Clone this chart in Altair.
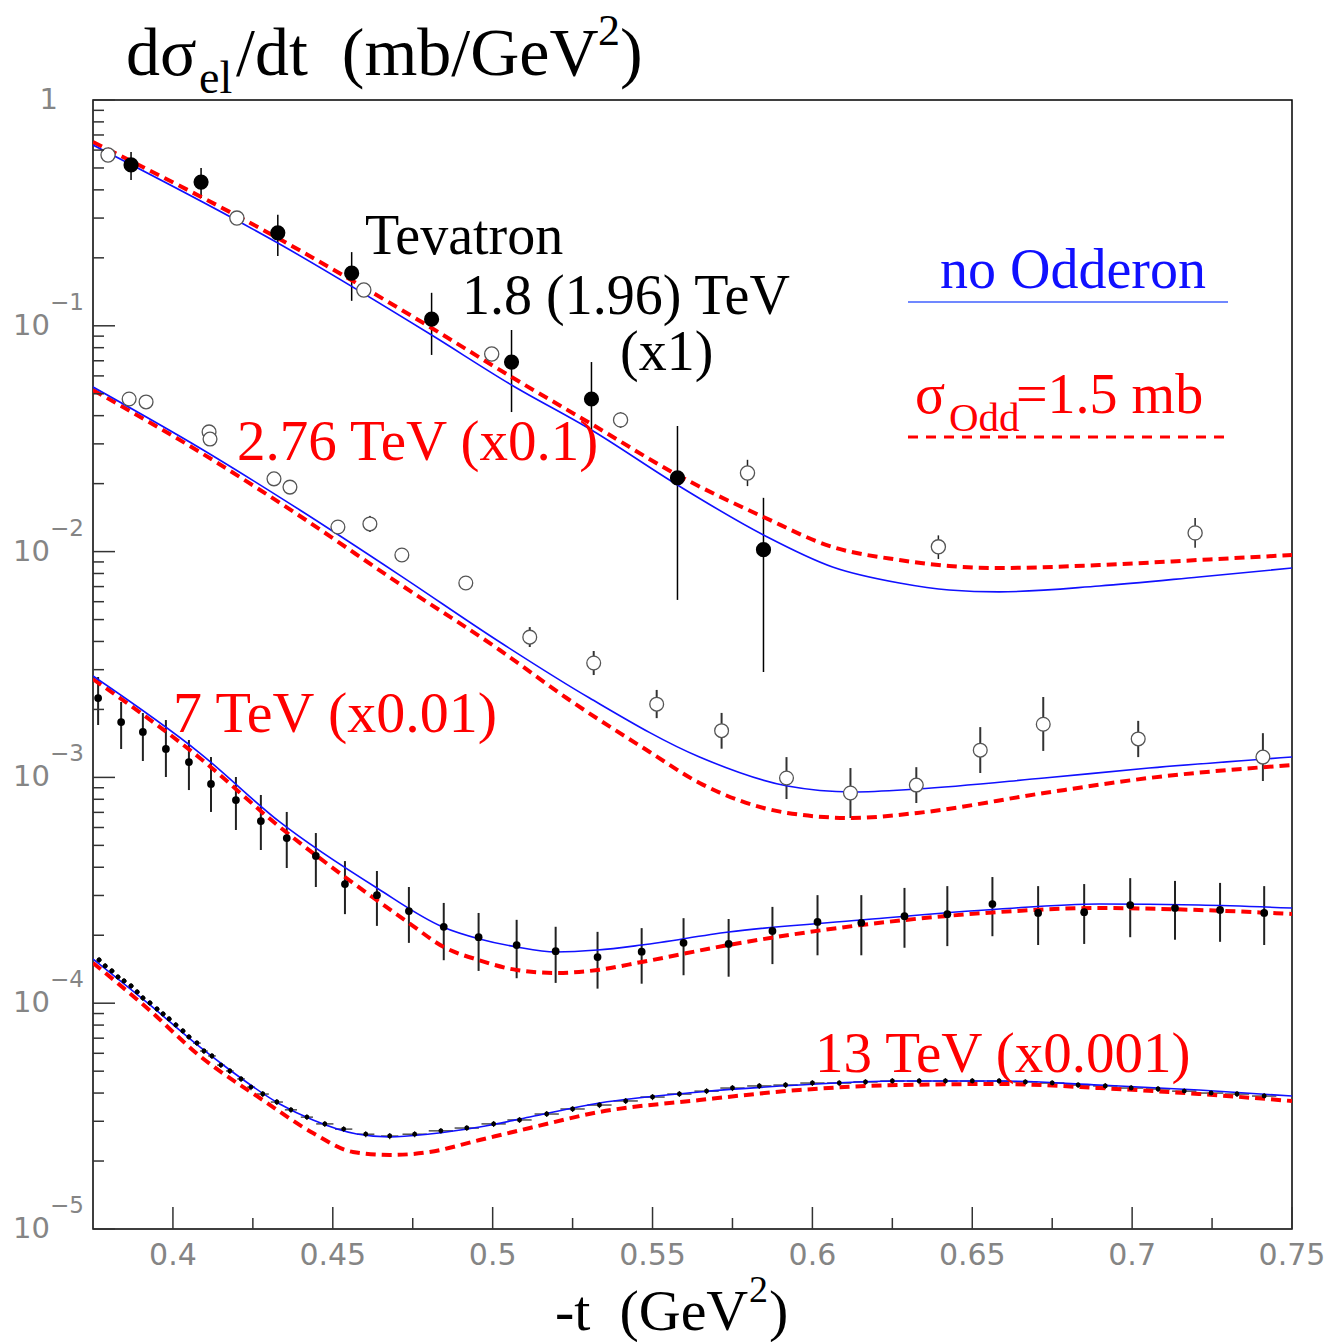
import altair as alt
import pandas as pd

# ---------------- data ----------------
# Tevatron 1.8 TeV (filled)
tevA_x = [0.3869, 0.4088, 0.4328, 0.4559, 0.4809, 0.5059, 0.5309, 0.5578, 0.5847]
tevA_y = [0.516, 0.433, 0.258, 0.171, 0.107, 0.0691, 0.0474, 0.0212, 0.0102]
tevA_lo = [0.442, 0.368, 0.204, 0.129, 0.0743, 0.0415, 0.0255, 0.00611, 0.00293]
tevA_hi = [0.588, 0.500, 0.310, 0.212, 0.140, 0.0958, 0.0691, 0.0360, 0.0173]

# Tevatron 1.96 TeV (open)
tevB_x = [0.3797, 0.4200, 0.4597, 0.4997, 0.5400, 0.5797, 0.6394, 0.7197]
tevB_y = [0.571, 0.300, 0.144, 0.0750, 0.0383, 0.0223, 0.0105, 0.0121]
tevB_lo = [0.554, 0.291, 0.1386, 0.0713, 0.0353, 0.0195, 0.00927, 0.0104]
tevB_hi = [0.589, 0.310, 0.1496, 0.0789, 0.0415, 0.0255, 0.0118, 0.0141]

# 2.76 TeV (x0.1)
e276_x = [0.3863, 0.3916, 0.4113, 0.4116, 0.4316, 0.4366, 0.4516, 0.4616, 0.4716, 0.4916, 0.5116,
          0.5316, 0.5513, 0.5716, 0.5919, 0.6119, 0.6325, 0.6525, 0.6722, 0.7019, 0.7409]
e276_y = [0.0474, 0.0460, 0.0339, 0.0315, 0.0210, 0.0193, 0.01285, 0.01326, 0.00966, 0.00726, 0.00418,
          0.00321, 0.00211, 0.00161, 0.000994, 0.000853, 0.000925, 0.00132, 0.00172, 0.00148, 0.00123]
e276_lo = [0.0460, 0.0446, 0.0319, 0.0296, 0.0203, 0.0187, 0.01246, 0.01222, 0.00927, 0.00697, 0.00378,
           0.00284, 0.00183, 0.00134, 0.000802, 0.000661, 0.000770, 0.001046, 0.00131, 0.00123, 0.000964]
e276_hi = [0.0489, 0.0474, 0.0360, 0.0335, 0.0216, 0.0199, 0.01325, 0.01439, 0.01006, 0.00756, 0.00463,
           0.00363, 0.00244, 0.00193, 0.00123, 0.00110, 0.00111, 0.00167, 0.00227, 0.00178, 0.00157]

# 7 TeV (x0.01)
e7_x = [0.3766, 0.3838, 0.3906, 0.3978, 0.4050, 0.4119, 0.4197, 0.4275, 0.4356, 0.4447, 0.4538,
        0.4638, 0.4738, 0.4847, 0.4956, 0.5075, 0.5197, 0.5328, 0.5466, 0.5597, 0.5738, 0.5875,
        0.6016, 0.6153, 0.6288, 0.6422, 0.6563, 0.6706, 0.6850, 0.6994, 0.7134, 0.7275, 0.7413]
e7_y = [0.002247, 0.001759, 0.001589, 0.001336, 0.001170, 0.000935, 0.000794, 0.000641, 0.000539,
        0.000449, 0.000337, 0.000301, 0.000256, 0.000218, 0.000196, 0.000181, 0.000170, 0.000160,
        0.000169, 0.000185, 0.000183, 0.000209, 0.000229, 0.000227, 0.000243, 0.000248, 0.000275,
        0.000251, 0.000253, 0.000272, 0.000264, 0.000259, 0.000251]
e7_lo = [0.001706, 0.001336, 0.001182, 0.001004, 0.000879, 0.000703, 0.000585, 0.000477, 0.000397,
         0.000327, 0.000248, 0.000220, 0.000185, 0.000155, 0.000139, 0.000129, 0.000123, 0.000116,
         0.000122, 0.000133, 0.000131, 0.000149, 0.000163, 0.000163, 0.000176, 0.000179, 0.000198,
         0.000181, 0.000183, 0.000196, 0.000191, 0.000187, 0.000181]
e7_hi = [0.002784, 0.002158, 0.001929, 0.001795, 0.001464, 0.001231, 0.001004, 0.000836, 0.000703,
         0.000567, 0.000426, 0.000385, 0.000327, 0.000278, 0.000251, 0.000234, 0.000218, 0.000207,
         0.000215, 0.000238, 0.000236, 0.000267, 0.000301, 0.000301, 0.000324, 0.000330, 0.000362,
         0.000330, 0.000337, 0.000358, 0.000348, 0.000341, 0.000330]

# 13 TeV (x0.001)
e13_x = [0.3769, 0.3788, 0.3809, 0.3828, 0.3847, 0.3869, 0.3888, 0.3906, 0.3928, 0.3950,
         0.3969, 0.3988, 0.4009, 0.4031, 0.4050, 0.4075, 0.4097, 0.4122, 0.4150, 0.4178,
         0.4213, 0.4244, 0.4281, 0.4325, 0.4369, 0.4419, 0.4475, 0.4534, 0.4603, 0.4678,
         0.4756, 0.4838, 0.4919, 0.5003, 0.5084, 0.5169, 0.5250, 0.5334, 0.5416, 0.5500,
         0.5584, 0.5669, 0.5750, 0.5834, 0.5916, 0.6000, 0.6084, 0.6166, 0.6250, 0.6334,
         0.6416, 0.6500, 0.6584, 0.6666, 0.6750, 0.6831, 0.6916, 0.6997, 0.7081, 0.7163,
         0.7247, 0.7328, 0.7413]
e13_y = [1.553e-4, 1.461e-4, 1.389e-4, 1.306e-4, 1.254e-4, 1.192e-4, 1.121e-4, 1.054e-4, 1.002e-4, 9.42e-5,
         8.96e-5, 8.51e-5, 8.01e-5, 7.53e-5, 7.09e-5, 6.66e-5, 6.14e-5, 5.84e-5, 5.32e-5, 5.01e-5,
         4.62e-5, 4.25e-5, 3.96e-5, 3.65e-5, 3.37e-5, 3.13e-5, 2.92e-5, 2.77e-5, 2.63e-5, 2.58e-5,
         2.63e-5, 2.72e-5, 2.80e-5, 2.92e-5, 3.04e-5, 3.23e-5, 3.40e-5, 3.54e-5, 3.69e-5, 3.84e-5,
         3.96e-5, 4.08e-5, 4.21e-5, 4.30e-5, 4.34e-5, 4.43e-5, 4.43e-5, 4.48e-5, 4.52e-5, 4.52e-5,
         4.52e-5, 4.52e-5, 4.52e-5, 4.48e-5, 4.43e-5, 4.34e-5, 4.30e-5, 4.21e-5, 4.17e-5, 4.08e-5,
         4.00e-5, 3.96e-5, 3.88e-5]
e13_err = [4.7e-6, 4.4e-6, 4.2e-6, 3.9e-6, 3.8e-6, 3.6e-6, 3.4e-6, 3.2e-6, 3.0e-6, 2.8e-6,
           2.7e-6, 2.6e-6, 2.4e-6, 2.3e-6, 2.1e-6, 2.0e-6, 1.8e-6, 1.8e-6, 1.6e-6, 1.5e-6,
           1.4e-6, 1.3e-6, 1.2e-6, 1.1e-6, 1.0e-6, 0.9e-6, 0.9e-6, 0.8e-6, 0.8e-6, 0.8e-6,
           0.8e-6, 0.8e-6, 0.8e-6, 0.9e-6, 0.9e-6, 1.0e-6, 1.0e-6, 1.1e-6, 1.1e-6, 1.2e-6,
           1.2e-6, 1.2e-6, 1.3e-6, 1.3e-6, 1.3e-6, 1.3e-6, 1.3e-6, 1.3e-6, 1.4e-6, 1.4e-6,
           1.4e-6, 1.4e-6, 1.4e-6, 1.3e-6, 1.3e-6, 1.3e-6, 1.3e-6, 1.3e-6, 1.3e-6, 1.2e-6,
           1.2e-6, 1.2e-6, 1.2e-6]
e13_xhw = [0.0009, 0.0009, 0.0009, 0.0009, 0.0009, 0.0009, 0.0009, 0.0009, 0.0009, 0.0009,
           0.0009, 0.0009, 0.0009, 0.0009, 0.0009, 0.0012, 0.0012, 0.0012, 0.0012, 0.0012,
           0.0012, 0.0012, 0.0019, 0.0019, 0.0019, 0.0019, 0.0027, 0.0027, 0.0027, 0.0027,
           0.0038, 0.0038, 0.0038, 0.0038, 0.0038, 0.0038, 0.0038, 0.0038, 0.0038, 0.0038,
           0.0038, 0.0038, 0.0038, 0.0038, 0.0038, 0.0038, 0.0038, 0.0038, 0.0038, 0.0038,
           0.0038, 0.0038, 0.0038, 0.0038, 0.0038, 0.0038, 0.0038, 0.0038, 0.0038, 0.0038,
           0.0038, 0.0038, 0.0038]

# Model curves: no Odderon (blue) and sigma_Odd = 1.5 mb (red dashed)
tev_blue_x = [0.375, 0.4328, 0.4809, 0.5059, 0.5309, 0.5578, 0.5847, 0.6063, 0.6272, 0.6428, 0.6584, 0.6897, 0.7209, 0.75]
tev_blue_y = [0.632, 0.2326, 0.0910, 0.0547, 0.03456, 0.01972, 0.01185, 0.00855, 0.00726, 0.00676, 0.00663, 0.00704, 0.00772, 0.00846]
tev_red_x = [0.375, 0.4328, 0.4809, 0.5059, 0.5309, 0.5578, 0.5847, 0.6063, 0.6272, 0.6428, 0.6584, 0.6897, 0.7209, 0.75]
tev_red_y = [0.652, 0.2447, 0.0978, 0.0593, 0.03673, 0.02184, 0.01423, 0.01048, 0.00918, 0.00863, 0.00846, 0.00872, 0.00918, 0.00966]

e276_blue_x = [0.375, 0.4084, 0.4397, 0.4709, 0.5022, 0.5303, 0.5647, 0.5922, 0.6125, 0.6328, 0.6725, 0.7053, 0.75]
e276_blue_y = [0.05358, 0.02876, 0.01528, 0.00787, 0.003978, 0.002247, 0.001231, 0.000916, 0.000862, 0.000888, 0.000994, 0.00110, 0.001231]
e276_red_x = [0.375, 0.4084, 0.4397, 0.4709, 0.5022, 0.5231, 0.5491, 0.5647, 0.5922, 0.6125, 0.6328, 0.6725, 0.7053, 0.75]
e276_red_y = [0.05196, 0.02761, 0.01438, 0.00719, 0.003666, 0.002247, 0.001296, 0.000945, 0.000696, 0.000661, 0.000696, 0.000853, 0.000994, 0.001135]

e7_blue_x = [0.375, 0.4084, 0.4334, 0.4638, 0.4844, 0.4959, 0.5075, 0.5197, 0.5328, 0.5466, 0.5738, 0.6153, 0.6584, 0.6897, 0.7209, 0.75]
e7_blue_y = [0.002812, 0.001282, 0.000635, 0.0003237, 0.0002176, 0.0001925, 0.0001774, 0.0001686, 0.0001720, 0.0001810,
             0.0002067, 0.0002336, 0.0002614, 0.0002750, 0.0002722, 0.0002640]
e7_red_x = [0.375, 0.4084, 0.4334, 0.4538, 0.4738, 0.4847, 0.4956, 0.5075, 0.5197, 0.5328, 0.5466, 0.5738, 0.6153, 0.6584, 0.6897, 0.7209, 0.75]
e7_red_y = [0.002727, 0.001219, 0.000603, 0.0003623, 0.0002266, 0.0001774, 0.0001553, 0.0001403, 0.0001361, 0.0001403, 0.0001522,
            0.0001810, 0.0002220, 0.0002534, 0.0002640, 0.0002587, 0.0002484]

e13_blue_x = [0.375, 0.3928, 0.4084, 0.4178, 0.4334, 0.4438, 0.4575, 0.4678, 0.4803, 0.4959, 0.5116, 0.5334, 0.5647, 0.5959, 0.6272, 0.6584, 0.6897, 0.7209, 0.75]
e13_blue_y = [1.569e-4, 9.82e-5, 6.40e-5, 5.06e-5, 3.578e-5, 3.039e-5, 2.634e-5, 2.555e-5, 2.634e-5, 2.829e-5, 3.133e-5, 3.614e-5,
              4.043e-5, 4.342e-5, 4.522e-5, 4.522e-5, 4.342e-5, 4.126e-5, 3.882e-5]
e13_red_x = [0.375, 0.3919, 0.4084, 0.4281, 0.4438, 0.4563, 0.4678, 0.4803, 0.4959, 0.5116, 0.5334, 0.5647, 0.5959, 0.6272, 0.6584, 0.6897, 0.7209, 0.75]
e13_red_y = [1.507e-4, 9.52e-5, 5.84e-5, 3.725e-5, 2.661e-5, 2.193e-5, 2.127e-5, 2.193e-5, 2.478e-5, 2.801e-5, 3.298e-5, 3.725e-5,
             4.126e-5, 4.342e-5, 4.386e-5, 4.211e-5, 3.963e-5, 3.688e-5]

# axis ticks / labels
xt_major = [0.40, 0.45, 0.50, 0.55, 0.60, 0.65, 0.70, 0.75]
xt_labels = ["0.4", "0.45", "0.5", "0.55", "0.6", "0.65", "0.7", "0.75"]
xt_minor = [0.425, 0.475, 0.525, 0.575, 0.625, 0.675, 0.725]
yt_major = [1e-5, 1e-4, 1e-3, 1e-2, 1e-1, 1.0]
y_dec_vals = [1e-1, 1e-2, 1e-3, 1e-4, 1e-5]
y_dec_exp = ["\u22121", "\u22122", "\u22123", "\u22124", "\u22125"]
yt_minor = [m * d for d in [1e-5, 1e-4, 1e-3, 1e-2, 1e-1] for m in range(2, 10)]

# ---------------- chart ----------------
W, H = 1199, 1129
OX, OY = 93, 100
BLUE = "#1010ff"
RED = "#ff0000"
SERIF = "Liberation Serif"
NB = "\u00a0"

xs = alt.Scale(domain=[0.375, 0.75], nice=False, zero=False)
ys = alt.Scale(type="log", domain=[1e-5, 1], nice=False)


def X(f):
    return alt.X(f, type="quantitative", scale=xs, axis=None)


def Y(f):
    return alt.Y(f, type="quantitative", scale=ys, axis=None)


layers = []


def curve(xv, yv, color, dashed):
    df = pd.DataFrame({"x": xv, "y": yv})
    if dashed:
        m = alt.Chart(df).mark_line(color=color, strokeWidth=4, strokeDash=[10, 6],
                                    interpolate="monotone", clip=True)
    else:
        m = alt.Chart(df).mark_line(color=color, strokeWidth=1.6, interpolate="monotone", clip=True)
    return m.encode(x=X("x"), y=Y("y"))


def errbars(xv, lo, hi, color, width):
    df = pd.DataFrame({"x": xv, "lo": lo, "hi": hi})
    return alt.Chart(df).mark_rule(color=color, strokeWidth=width, clip=True).encode(
        x=X("x"), y=Y("lo"), y2=alt.Y2("hi"))


# error bars
layers.append(errbars(tevA_x, tevA_lo, tevA_hi, "#000", 1.5))
layers.append(errbars(tevB_x, tevB_lo, tevB_hi, "#222", 1.5))
layers.append(errbars(e276_x, e276_lo, e276_hi, "#333", 2))
layers.append(errbars(e7_x, e7_lo, e7_hi, "#222", 2))

df13 = pd.DataFrame({"x": e13_x, "y": e13_y, "err": e13_err, "hw": e13_xhw})
df13["lo"] = df13["y"] - df13["err"]
df13["hi"] = df13["y"] + df13["err"]
df13["xl"] = df13["x"] - df13["hw"]
df13["xh"] = df13["x"] + df13["hw"]
layers.append(alt.Chart(df13).mark_rule(color="#222", strokeWidth=1.2, clip=True).encode(
    x=X("x"), y=Y("lo"), y2=alt.Y2("hi")))
layers.append(alt.Chart(df13).mark_rule(color="#222", strokeWidth=1.2, clip=True).encode(
    x=X("xl"), x2=alt.X2("xh"), y=Y("y")))

# curves
for bx, by, rx, ry in [(tev_blue_x, tev_blue_y, tev_red_x, tev_red_y),
                       (e276_blue_x, e276_blue_y, e276_red_x, e276_red_y),
                       (e7_blue_x, e7_blue_y, e7_red_x, e7_red_y),
                       (e13_blue_x, e13_blue_y, e13_red_x, e13_red_y)]:
    layers.append(curve(rx, ry, RED, True))
    layers.append(curve(bx, by, BLUE, False))

# markers
layers.append(alt.Chart(pd.DataFrame({"x": tevA_x, "y": tevA_y})).mark_point(
    shape="circle", filled=True, size=230, color="#000", opacity=1).encode(x=X("x"), y=Y("y")))
layers.append(alt.Chart(pd.DataFrame({"x": tevB_x, "y": tevB_y})).mark_point(
    shape="circle", filled=True, size=200, fill="#fff", stroke="#555", strokeWidth=1.3, opacity=1
).encode(x=X("x"), y=Y("y")))
layers.append(alt.Chart(pd.DataFrame({"x": e276_x, "y": e276_y})).mark_point(
    shape="circle", filled=True, size=190, fill="#fff", stroke="#555", strokeWidth=1.3, opacity=1
).encode(x=X("x"), y=Y("y")))
layers.append(alt.Chart(pd.DataFrame({"x": e7_x, "y": e7_y})).mark_point(
    shape="circle", filled=True, size=60, color="#000", opacity=1).encode(x=X("x"), y=Y("y")))
layers.append(alt.Chart(df13).mark_point(
    shape="circle", filled=True, size=24, color="#000", opacity=1).encode(x=X("x"), y=Y("y")))

# ticks (inward)
layers.append(alt.Chart(pd.DataFrame({"v": xt_major})).mark_rule(color="#333", strokeWidth=1.5).encode(
    x=X("v"), y=alt.value(H), y2=alt.value(H - 22)))
layers.append(alt.Chart(pd.DataFrame({"v": xt_minor})).mark_rule(color="#333", strokeWidth=1.5).encode(
    x=X("v"), y=alt.value(H), y2=alt.value(H - 11)))
layers.append(alt.Chart(pd.DataFrame({"v": yt_major})).mark_rule(color="#333", strokeWidth=1.5).encode(
    y=Y("v"), x=alt.value(0), x2=alt.value(22)))
layers.append(alt.Chart(pd.DataFrame({"v": yt_minor})).mark_rule(color="#333", strokeWidth=1.5).encode(
    y=Y("v"), x=alt.value(0), x2=alt.value(11)))

# tick labels
layers.append(alt.Chart(pd.DataFrame({"v": xt_major, "t": xt_labels})).mark_text(
    font="DejaVu Sans", fontSize=30, color="#858585", align="center", baseline="top"
).encode(x=X("v"), y=alt.value(H + 12), text="t:N"))
layers.append(alt.Chart(pd.DataFrame({"v": y_dec_vals, "t": ["10"] * len(y_dec_vals)})).mark_text(
    font="DejaVu Sans", fontSize=29, color="#858585", align="right", baseline="middle"
).encode(y=Y("v"), x=alt.value(-43), text="t:N"))
layers.append(alt.Chart(pd.DataFrame({"v": y_dec_vals, "t": y_dec_exp})).mark_text(
    font="DejaVu Sans", fontSize=23, color="#858585", align="left", baseline="middle", dy=-23
).encode(y=Y("v"), x=alt.value(-43), text="t:N"))
layers.append(alt.Chart(pd.DataFrame({"v": [1.0], "t": ["1"]})).mark_text(
    font="DejaVu Sans", fontSize=29, color="#858585", align="right", baseline="middle"
).encode(y=Y("v"), x=alt.value(-35), text="t:N"))


def label(text, px, py, size, color, align="left"):
    return alt.Chart(pd.DataFrame({"t": [text]})).mark_text(
        font=SERIF, fontSize=size, color=color, align=align, baseline="alphabetic"
    ).encode(text="t:N", x=alt.value(px - OX), y=alt.value(py - OY))


# titles
layers.append(label("d\u03c3", 126, 75, 68, "#000"))
layers.append(label("el", 199, 93, 46, "#000"))
layers.append(label("/dt" + NB + NB + "(mb/GeV", 236, 75, 68, "#000"))
layers.append(label("2", 598, 45, 44, "#000"))
layers.append(label(")", 620, 75, 68, "#000"))

layers.append(label("-t" + NB + NB + "(GeV", 555, 1330, 58, "#000"))
layers.append(label("2", 749, 1302, 38, "#000"))
layers.append(label(")", 769, 1330, 58, "#000"))

# annotations
layers.append(label("Tevatron", 365, 254, 56, "#000"))
layers.append(label("1.8 (1.96) TeV", 462, 314, 56, "#000"))
layers.append(label("(x1)", 620, 370, 56, "#000"))
layers.append(label("2.76 TeV (x0.1)", 237, 460, 57, RED))
layers.append(label("7 TeV (x0.01)", 173, 732, 58, RED))
layers.append(label("13 TeV (x0.001)", 815, 1072, 57, RED))

# legend
layers.append(label("no Odderon", 940, 288, 56, BLUE))
layers.append(alt.Chart(pd.DataFrame({"k": [0]})).mark_rule(color="#4060ff", strokeWidth=1.5).encode(
    x=alt.value(908 - OX), x2=alt.value(1228 - OX), y=alt.value(302 - OY)))
layers.append(label("\u03c3", 915, 413, 56, RED))
layers.append(label("Odd", 949, 431, 41, RED))
layers.append(label("=1.5 mb", 1016, 413, 56, RED))
layers.append(alt.Chart(pd.DataFrame({"k": [0]})).mark_rule(color=RED, strokeWidth=3, strokeDash=[10, 8]).encode(
    x=alt.value(908 - OX), x2=alt.value(1228 - OX), y=alt.value(437 - OY)))

chart = alt.layer(*layers).properties(
    width=W, height=H,
    autosize=alt.AutoSizeParams(type="none"),
    padding={"left": OX, "top": OY, "right": 1331 - OX - W, "bottom": 1342 - OY - H},
    background="white",
).configure_view(stroke="#000", strokeWidth=1.5)

chart.save("out.html", embed_options={"renderer": "svg", "actions": False})
